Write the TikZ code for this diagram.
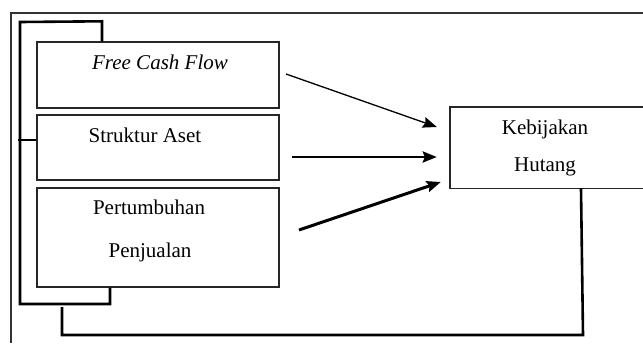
\documentclass[tikz,border=0pt]{standalone}
\usepackage{fontspec}
\setmainfont{Liberation Serif}
\usetikzlibrary{arrows.meta}

\tikzset{
    kotak/.style={draw=black!85, line width=1.4pt, minimum width=#1, inner sep=0pt},
    tepi/.style={draw=black!85, line width=1.4pt},
    teks/.style={anchor=base, font=\fontsize{21}{25}\selectfont},
    garis/.style={line width=2.6pt, line join=miter},
    panah/.style={-{Stealth[length=14pt,width=11pt,inset=2pt]}}
}

\begin{document}
\begin{tikzpicture}[x=1pt,y=-1pt]
    % Ukuran gambar
    \useasboundingbox (0,0) rectangle (643,343);

    % Bingkai luar (terpotong di kanan dan bawah)
    \draw[line width=2pt, black!80] (643,13) -- (11,13) -- (11,343);

    % Kotak variabel
    \node[kotak=242pt, minimum height=66pt] (fcf) at (158,75) {};
    \node[kotak=242pt, minimum height=65pt] (sa)  at (158,147.5) {};
    \node[kotak=242pt, minimum height=99pt] (pp)  at (158,237.5) {};
    \node[minimum width=193pt, minimum height=81pt, inner sep=0pt] (keb) at (546.5,147.5) {};
    \draw[tepi] (keb.north east) -- (keb.north west) -- (keb.south west) -- (keb.south east);

    % Teks
    \node[teks] at (160,69) {\itshape Free Cash Flow};
    \node[teks] at (145,142) {Struktur Aset};
    \node[teks] at (149,214) {Pertumbuhan};
    \node[teks] at (150,257) {Penjualan};
    \node[teks] at (545,134) {Kebijakan};
    \node[teks] at (545,171) {Hutang};

    % Titik awal panah
    \coordinate (a1) at (286,74);
    \coordinate (a2) at (292,157);
    \coordinate (a3) at (299,230);

    % Panah ke Kebijakan Hutang
    \draw[panah, line width=1.3pt] (a1) -- ([xshift=-13pt,yshift=20.5pt]keb.west);
    \draw[panah, line width=2.6pt] (a2) -- ([xshift=-13pt,yshift=-9.5pt]keb.west);
    \draw[panah, line width=3pt] (a3) -- ([xshift=-9pt,yshift=-34.5pt]keb.west);

    % Garis kurung kiri
    \draw[garis] ([xshift=-56pt]fcf.north) -- ++(0,-20) -- (20,22) -- (20,304)
        -- (110,304) -- (pp.south -| 110,0);
    \draw[garis] (18,140) -- (sa.west |- 0,140);

    % Garis umpan balik
    \draw[garis] (62,307) -- (62,335) -- (583,335) -- ([xshift=34.5pt]keb.south);
\end{tikzpicture}
\end{document}
